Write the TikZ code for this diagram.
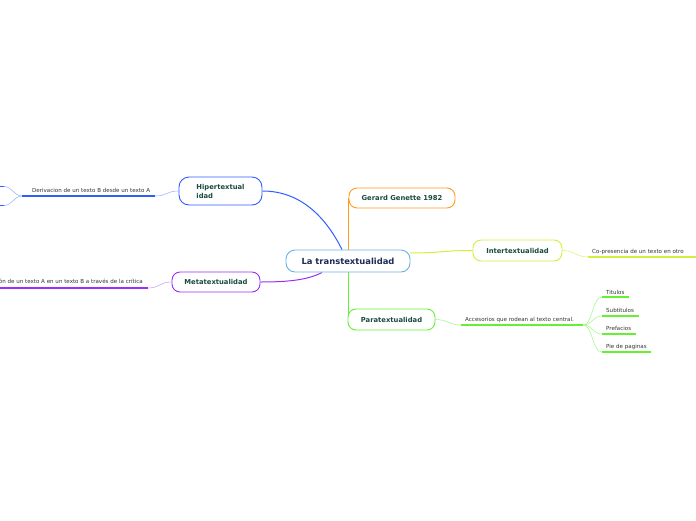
\documentclass[tikz,border=0pt]{standalone}
\usepackage{fontspec}
\setmainfont{DejaVu Sans}
\usetikzlibrary{positioning,backgrounds}

\definecolor{rootline}{HTML}{6BB3E0}
\definecolor{rootfont}{HTML}{1C2B55}
\definecolor{topicfont}{HTML}{1A4A3F}
\definecolor{leaffont}{HTML}{333333}
\definecolor{hiperblue}{HTML}{2F5DFF}
\definecolor{metapurple}{HTML}{9B30F0}
\definecolor{interlime}{HTML}{D0F03C}
\definecolor{paragreen}{HTML}{66F033}
\definecolor{genorange}{HTML}{FF9D1A}

\begin{document}
\begin{tikzpicture}[
    x=1pt, y=-1pt,
    topic/.style={draw, rectangle, rounded corners=8pt, fill=white, line width=0.9pt, inner sep=0pt, text=topicfont, font=\fontsize{6.8}{9}\selectfont\bfseries},
    root/.style={topic, rounded corners=9pt, text=rootfont, font=\fontsize{8.4}{9}\selectfont\bfseries},
    leaf/.style={inner sep=0pt, anchor=base west, text=leaffont, font=\fontsize{5.55}{6}\selectfont},
    branch/.style={line width=1pt},
    twig/.style={line width=0.6pt},
    uline/.style={line width=1.6pt}
]
    \useasboundingbox (0,0) rectangle (696,520);
    \clip (0,0) rectangle (696,520);

    \node [root, draw=rootline, minimum width=124pt, minimum height=22pt] (center) at (348,261) {La transtextualidad};
    \node [topic, draw=genorange, minimum width=106pt, minimum height=20pt] (genette) at (402,198) {Gerard Genette 1982};
    \node [topic, draw=hiperblue, minimum width=83pt, minimum height=28pt, rounded corners=10pt, align=left] (hiper) at (220.5,191) {Hipertextual\\idad};
    \node [topic, draw=metapurple, minimum width=88pt, minimum height=20pt] (meta) at (216,282) {Metatextualidad};
    \node [topic, draw=interlime, minimum width=89pt, minimum height=21pt] (inter) at (517.5,250.5) {Intertextualidad};
    \node [topic, draw=paragreen, minimum width=87pt, minimum height=21pt] (para) at (391.5,319.5) {Paratextualidad};

    \node [leaf] (derivacion) at (32,192) {Derivacion de un texto B desde un texto A};
    \node [leaf, anchor=base east] (critica) at (143,283.5) {ón de un texto A en un texto B a través de la crítica};
    \node [leaf] (copresencia) at (592,253) {Co-presencia de un texto en otro};
    \node [leaf] (accesorios) at (465,321) {Accesorios que rodean al texto central.};
    \node [leaf] (titulos) at (606,294) {Titulos};
    \node [leaf] (subtitulos) at (606,312.5) {Subtitulos};
    \node [leaf] (prefacios) at (606,330.5) {Prefacios};
    \node [leaf] (pie) at (606,348.5) {Pie de paginas};

    \coordinate (hA) at (155,196);  \coordinate (hB) at (22,196);
    \coordinate (hC) at (4,186.5);  \coordinate (hC0) at (-10,186.5);
    \coordinate (hD) at (4,205.5);  \coordinate (hD0) at (-10,205.5);
    \coordinate (mA) at (148,288);  \coordinate (mB) at (-10,288);
    \coordinate (iA) at (588,257);  \coordinate (iB) at (700,257);
    \coordinate (pA) at (461,325);  \coordinate (pB) at (583,325);
    \coordinate (t1A) at (602,297); \coordinate (t1B) at (629,297);
    \coordinate (t2A) at (602,316); \coordinate (t2B) at (639,316);
    \coordinate (t3A) at (602,334); \coordinate (t3B) at (636,334);
    \coordinate (t4A) at (602,352); \coordinate (t4B) at (651,352);

    \begin{scope}[on background layer]
        % main branches
        \draw [branch, hiperblue] (hiper.east) .. controls +(40,0) and +(-15,-30) .. ([xshift=-6pt]center.north);
        \draw [branch, metapurple] ([xshift=-26pt]center.south) .. controls +(-15,8) and +(25,0) .. (meta.east);
        \draw [branch, interlime] ([yshift=8pt]center.east) .. controls +(30,0) and +(-30,0) .. (inter.west);
        \draw [branch, genorange] (center.north) -- (center.north |- genette.west);
        \draw [branch, paragreen] (center.south) -- (center.south |- para.west);

        % hipertextualidad
        \draw [twig, hiperblue!45] (hiper.west) .. controls +(-12,0) and +(12,0) .. (hA);
        \draw [uline, hiperblue] (hA) -- (hB);
        \draw [twig, hiperblue!45] (hB) .. controls +(-8,0) and +(8,0) .. (hC);
        \draw [twig, hiperblue!45] (hB) .. controls +(-8,0) and +(8,0) .. (hD);
        \draw [uline, hiperblue] (hC) -- (hC0);
        \draw [uline, hiperblue] (hD) -- (hD0);

        % metatextualidad
        \draw [twig, metapurple!45] (meta.west) .. controls +(-12,0) and +(12,0) .. (mA);
        \draw [uline, metapurple] (mA) -- (mB);

        % intertextualidad
        \draw [twig, interlime!70] (inter.east) .. controls +(12,0) and +(-12,0) .. (iA);
        \draw [uline, interlime] (iA) -- (iB);

        % paratextualidad
        \draw [twig, paragreen!55] (para.east) .. controls +(12,0) and +(-12,0) .. (pA);
        \draw [uline, paragreen] (pA) -- (pB);
        \foreach \t in {t1,t2,t3,t4} {
            \draw [twig, paragreen!55] (pB) .. controls +(10,0) and +(-10,0) .. (\t A);
            \draw [uline, paragreen] (\t A) -- (\t B);
        }
    \end{scope}
\end{tikzpicture}
\end{document}
